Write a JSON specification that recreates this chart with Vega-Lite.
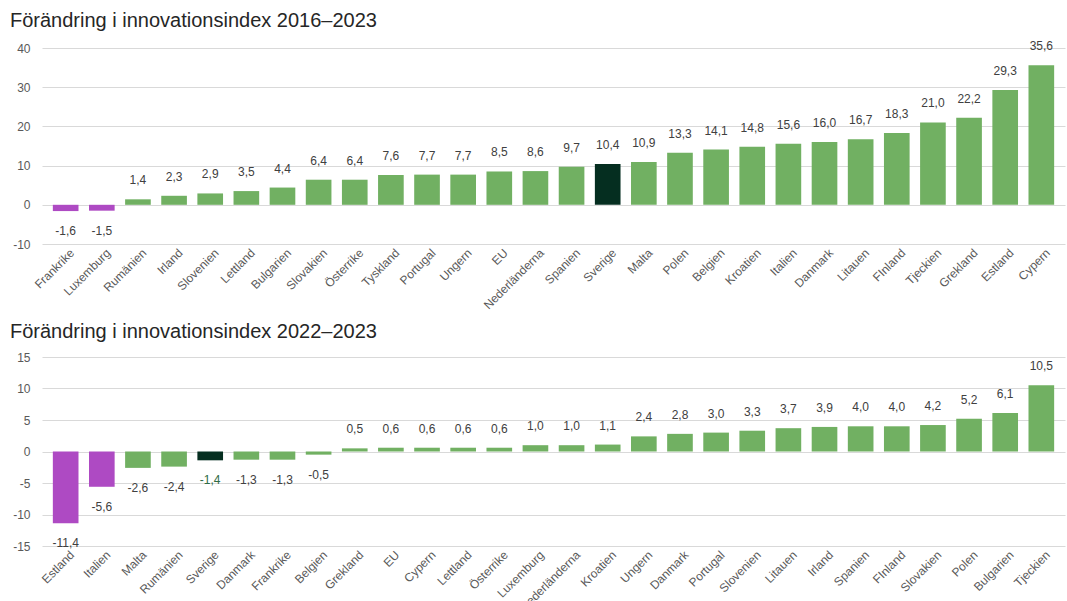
{
  "$schema": "https://vega.github.io/schema/vega-lite/v6.json",
  "padding": {"left": 10, "top": 11, "right": 2, "bottom": 0},
  "spacing": 11,
  "config": {
    "locale": {"number": {"decimal": ",", "thousands": " ", "grouping": [3], "currency": ["", " kr"], "minus": "-"}},
    "font": "Liberation Sans",
    "view": {"stroke": null},
    "axis": {"labelFont": "Liberation Sans", "labelFontSize": 12, "labelColor": "#595959", "ticks": false, "domain": false, "title": null},
    "axisY": {"gridColor": "#d9d9d9", "gridWidth": 1, "labelPadding": 12, "minExtent": 32, "maxExtent": 32},
    "axisX": {"grid": false, "labelAngle": -45, "labelPadding": 3, "labelOffset": 3},
    "title": {"anchor": "start", "fontSize": 20, "fontWeight": "normal", "color": "#262626", "font": "Liberation Sans", "offset": 9},
    "scale": {"bandPaddingInner": 0.29, "bandPaddingOuter": 0.3}
  },
  "vconcat": [
    {
      "title": "Förändring i innovationsindex 2016–2023",
      "width": 1023,
      "height": 196,
      "data": {"values": [
        {"land": "Frankrike", "varde": -1.6, "grupp": "Minskning"},
        {"land": "Luxemburg", "varde": -1.5, "grupp": "Minskning"},
        {"land": "Rumänien", "varde": 1.4, "grupp": "Övriga"},
        {"land": "Irland", "varde": 2.3, "grupp": "Övriga"},
        {"land": "Slovenien", "varde": 2.9, "grupp": "Övriga"},
        {"land": "Lettland", "varde": 3.5, "grupp": "Övriga"},
        {"land": "Bulgarien", "varde": 4.4, "grupp": "Övriga"},
        {"land": "Slovakien", "varde": 6.4, "grupp": "Övriga"},
        {"land": "Österrike", "varde": 6.4, "grupp": "Övriga"},
        {"land": "Tyskland", "varde": 7.6, "grupp": "Övriga"},
        {"land": "Portugal", "varde": 7.7, "grupp": "Övriga"},
        {"land": "Ungern", "varde": 7.7, "grupp": "Övriga"},
        {"land": "EU", "varde": 8.5, "grupp": "Övriga"},
        {"land": "Nederländerna", "varde": 8.6, "grupp": "Övriga"},
        {"land": "Spanien", "varde": 9.7, "grupp": "Övriga"},
        {"land": "Sverige", "varde": 10.4, "grupp": "Sverige"},
        {"land": "Malta", "varde": 10.9, "grupp": "Övriga"},
        {"land": "Polen", "varde": 13.3, "grupp": "Övriga"},
        {"land": "Belgien", "varde": 14.1, "grupp": "Övriga"},
        {"land": "Kroatien", "varde": 14.8, "grupp": "Övriga"},
        {"land": "Italien", "varde": 15.6, "grupp": "Övriga"},
        {"land": "Danmark", "varde": 16.0, "grupp": "Övriga"},
        {"land": "Litauen", "varde": 16.7, "grupp": "Övriga"},
        {"land": "FInland", "varde": 18.3, "grupp": "Övriga"},
        {"land": "Tjeckien", "varde": 21.0, "grupp": "Övriga"},
        {"land": "Grekland", "varde": 22.2, "grupp": "Övriga"},
        {"land": "Estland", "varde": 29.3, "grupp": "Övriga"},
        {"land": "Cypern", "varde": 35.6, "grupp": "Övriga"}
      ]},
      "encoding": {
        "x": {"field": "land", "type": "nominal", "sort": null},
        "y": {"field": "varde", "type": "quantitative", "scale": {"domain": [-10, 40], "nice": false}, "axis": {"values": [-10, 0, 10, 20, 30, 40], "format": "d"}}
      },
      "layer": [
        {
          "mark": {"type": "bar"},
          "encoding": {
            "color": {"field": "grupp", "type": "nominal", "legend": null, "scale": {"domain": ["Minskning", "Övriga", "Sverige"], "range": ["#ae4ac3", "#71b062", "#052e20"]}}
          }
        },
        {
          "transform": [{"filter": "datum.varde >= 0"}],
          "mark": {"type": "text", "baseline": "middle", "dy": -19, "fontSize": 12, "color": "#404040"},
          "encoding": {"text": {"field": "varde", "type": "quantitative", "format": ".1f"}}
        },
        {
          "transform": [{"filter": "datum.varde < 0"}],
          "mark": {"type": "text", "baseline": "middle", "dy": 20, "fontSize": 12, "color": "#404040"},
          "encoding": {"text": {"field": "varde", "type": "quantitative", "format": ".1f"}}
        }
      ]
    },
    {
      "title": "Förändring i innovationsindex 2022–2023",
      "width": 1023,
      "height": 189,
      "data": {"values": [
        {"land": "Estland", "varde": -11.4, "grupp": "Minskning"},
        {"land": "Italien", "varde": -5.6, "grupp": "Minskning"},
        {"land": "Malta", "varde": -2.6, "grupp": "Övriga"},
        {"land": "Rumänien", "varde": -2.4, "grupp": "Övriga"},
        {"land": "Sverige", "varde": -1.4, "grupp": "Sverige"},
        {"land": "Danmark", "varde": -1.3, "grupp": "Övriga"},
        {"land": "Frankrike", "varde": -1.3, "grupp": "Övriga"},
        {"land": "Belgien", "varde": -0.5, "grupp": "Övriga"},
        {"land": "Grekland", "varde": 0.5, "grupp": "Övriga"},
        {"land": "EU", "varde": 0.6, "grupp": "Övriga"},
        {"land": "Cypern", "varde": 0.6, "grupp": "Övriga"},
        {"land": "Lettland", "varde": 0.6, "grupp": "Övriga"},
        {"land": "Österrike", "varde": 0.6, "grupp": "Övriga"},
        {"land": "Luxemburg", "varde": 1.0, "grupp": "Övriga"},
        {"land": "Nederländerna", "varde": 1.0, "grupp": "Övriga"},
        {"land": "Kroatien", "varde": 1.1, "grupp": "Övriga"},
        {"land": "Ungern", "varde": 2.4, "grupp": "Övriga"},
        {"land": "Danmark ", "varde": 2.8, "grupp": "Övriga"},
        {"land": "Portugal", "varde": 3.0, "grupp": "Övriga"},
        {"land": "Slovenien", "varde": 3.3, "grupp": "Övriga"},
        {"land": "Litauen", "varde": 3.7, "grupp": "Övriga"},
        {"land": "Irland", "varde": 3.9, "grupp": "Övriga"},
        {"land": "Spanien", "varde": 4.0, "grupp": "Övriga"},
        {"land": "FInland", "varde": 4.0, "grupp": "Övriga"},
        {"land": "Slovakien", "varde": 4.2, "grupp": "Övriga"},
        {"land": "Polen", "varde": 5.2, "grupp": "Övriga"},
        {"land": "Bulgarien", "varde": 6.1, "grupp": "Övriga"},
        {"land": "Tjeckien", "varde": 10.5, "grupp": "Övriga"}
      ]},
      "encoding": {
        "x": {"field": "land", "type": "nominal", "sort": null},
        "y": {"field": "varde", "type": "quantitative", "scale": {"domain": [-15, 15], "nice": false}, "axis": {"values": [-15, -10, -5, 0, 5, 10, 15], "format": "d"}}
      },
      "layer": [
        {
          "mark": {"type": "bar"},
          "encoding": {
            "color": {"field": "grupp", "type": "nominal", "legend": null, "scale": {"domain": ["Minskning", "Övriga", "Sverige"], "range": ["#ae4ac3", "#71b062", "#052e20"]}}
          }
        },
        {
          "transform": [{"filter": "datum.varde >= 0"}],
          "mark": {"type": "text", "baseline": "middle", "dy": -19, "fontSize": 12, "color": "#404040"},
          "encoding": {"text": {"field": "varde", "type": "quantitative", "format": ".1f"}}
        },
        {
          "transform": [{"filter": "datum.varde < 0"}],
          "mark": {"type": "text", "baseline": "middle", "dy": 20, "fontSize": 12},
          "encoding": {
            "text": {"field": "varde", "type": "quantitative", "format": ".1f"},
            "color": {"condition": {"test": "datum.grupp === 'Sverige'", "value": "#2e6b45"}, "value": "#404040"}
          }
        }
      ]
    }
  ]
}
